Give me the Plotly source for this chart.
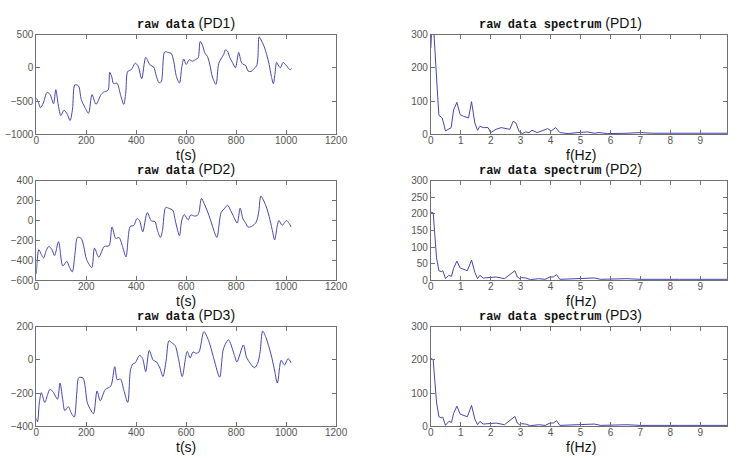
import plotly.graph_objects as go
from plotly.subplots import make_subplots

# ---------------- data ----------------
t1 = [0, 8, 17, 28, 43, 55, 69, 78, 88, 98, 111, 124, 135, 145, 154, 165, 171, 180, 195, 209,
      223, 239, 259, 272, 283, 289, 294, 303, 308, 318, 324, 338, 350, 358, 366, 380, 396, 407,
      422, 438, 455, 470, 480, 491, 500, 514, 528, 540, 550, 560, 573, 582, 590, 600, 612, 625,
      640, 648, 656, 665, 675, 685, 695, 705, 719, 730, 742, 750, 757, 765, 775, 785, 797, 810,
      820, 828, 837, 848, 860, 872, 882, 887, 892, 902, 912, 922, 932, 941, 949, 955, 962, 970,
      977, 988, 997, 1008, 1015, 1022]
pd1 = [-452, -520, -600, -530, -370, -400, -540, -330, -560, -720, -638, -700, -793, -620, -258,
       -262, -290, -477, -600, -686, -404, -550, -404, -360, -350, -320, -68, -150, -234, -234,
       -234, -420, -550, -380, -54, -30, 68, 30, -166, 156, 44, 10, -120, -224, -210, 238, 230,
       215, 100, -120, -230, 0, 132, 50, 120, 100, 130, 150, 396, 340, 220, 170, 40, -140, -250,
       60, 150, 200, 269, 250, 150, 80, 0, 230, 90, 50, 40, -50, -55, -10, 30, 150, 464, 400, 320,
       200, 50, -130, -240, -100, 83, 30, 0, 80, 50, 0, -30, -10]

t2 = [0, 10, 20, 29, 40, 50, 62, 73, 89, 106, 122, 133, 144, 155, 165, 180, 190, 201, 222, 233,
      250, 272, 291, 303, 318, 331, 345, 359, 376, 390, 403, 413, 426, 444, 461, 475, 485, 497,
      505, 518, 532, 546, 558, 573, 582, 592, 608, 618, 632, 644, 651, 661, 672, 684, 698, 712,
      723, 740, 755, 766, 778, 788, 804, 816, 827, 837, 847, 862, 880, 890, 899, 919, 932, 944,
      954, 964, 971, 984, 994, 1001, 1012, 1020]
pd2 = [-537, -293, -340, -375, -300, -260, -290, -352, -212, -456, -410, -470, -515, -330, -170,
       -180, -260, -390, -472, -277, -368, -260, -254, -65, -180, -170, -260, -365, -59, -50, 20,
       0, -114, 78, -6, -10, -100, -170, -100, 130, 120, 104, -20, -153, 0, 59, 7, 55, 45, 49, 81,
       221, 170, 98, 0, -110, -170, 81, 125, 153, 100, 49, -26, 124, 16, -20, -65, -60, -16, 80,
       244, 147, 40, -90, -195, -60, 0, -49, -20, 0, -30, -65]

t3 = [0, 5, 12, 20, 34, 45, 54, 66, 76, 85, 95, 105, 114, 128, 140, 152, 162, 170, 187, 204, 217,
      229, 243, 256, 276, 298, 314, 324, 337, 350, 366, 377, 386, 396, 413, 425, 438, 452, 468,
      481, 495, 507, 520, 531, 545, 556, 570, 584, 604, 616, 627, 640, 651, 671, 690, 712, 734,
      749, 769, 792, 803, 829, 841, 856, 873, 886, 896, 906, 919, 939, 952, 965, 980, 993, 1008,
      1020]
pd3 = [-353, -373, -260, -197, -256, -210, -178, -190, -217, -236, -139, -230, -305, -281, -320,
       -344, -200, -107, -109, -256, -300, -324, -187, -246, -178, -158, -41, -119, -115, -180,
       -256, -60, -25, -18, 27, 10, -70, 57, -2, -12, -50, -100, 0, 115, 100, 86, 0, -100, 51, 12,
       47, 40, 47, 170, 115, 0, -104, 66, 121, 33, -12, 90, 18, -20, -47, -21, 50, 174, 135, 37,
       -50, -139, -2, -31, 8, -18]

f1 = [0, 0.03, 0.1, 0.16, 0.22, 0.27, 0.38, 0.49, 0.6, 0.68, 0.76, 0.87, 0.98, 1.09, 1.26, 1.36,
      1.47, 1.56, 1.64, 1.75, 1.91, 2.0, 2.18, 2.35, 2.51, 2.64, 2.75, 2.84, 2.95, 3.06, 3.17,
      3.28, 3.38, 3.55, 3.71, 3.9, 4.02, 4.17, 4.31, 4.59, 4.91, 5.24, 5.46, 5.62, 5.9, 6.3, 6.55,
      6.99, 7.4, 8.0, 8.6, 9.2, 9.9]
s1 = [259, 320, 310, 205, 127, 57, 49, 10, 17, 20, 73, 96, 59, 54, 49, 98, 34, 12, 24, 20, 20, 5,
      15, 20, 17, 15, 39, 34, 8, 2, 7, 5, 12, 5, 10, 17, 10, 20, 5, 2, 5, 7, 3, 5, 2, 4, 3, 5, 3,
      3, 3, 3, 3]

f2 = [0, 0.08, 0.13, 0.19, 0.27, 0.35, 0.4, 0.49, 0.6, 0.69, 0.76, 0.87, 0.98, 1.09, 1.22, 1.36,
      1.47, 1.56, 1.64, 1.75, 1.91, 2.18, 2.46, 2.67, 2.81, 2.89, 2.97, 3.03, 3.17, 3.33, 3.6,
      3.82, 3.98, 4.09, 4.2, 4.31, 4.8, 5.24, 5.46, 5.68, 6.11, 6.55, 6.99, 7.64, 8.3, 9.0, 9.9]
s2 = [205, 203, 141, 68, 29, 26, 29, 5, 15, 12, 36, 58, 37, 34, 29, 61, 24, 5, 15, 7, 8, 10, 5,
      19, 29, 10, 5, 8, 7, 2, 5, 3, 10, 10, 17, 3, 5, 5, 7, 3, 5, 5, 3, 2, 3, 3, 3]

f3 = [0, 0.08, 0.13, 0.19, 0.27, 0.35, 0.4, 0.49, 0.6, 0.69, 0.76, 0.87, 0.98, 1.09, 1.22, 1.36,
      1.47, 1.56, 1.64, 1.75, 1.91, 2.18, 2.46, 2.67, 2.81, 2.89, 2.97, 3.03, 3.17, 3.33, 3.6,
      3.82, 3.98, 4.09, 4.2, 4.31, 4.8, 5.24, 5.46, 5.68, 6.11, 6.55, 6.99, 7.64, 8.3, 9.0, 9.9]
s3 = [205, 200, 140, 73, 29, 26, 28, 3, 15, 12, 39, 61, 37, 34, 29, 63, 22, 5, 15, 7, 8, 10, 5,
      19, 30, 10, 5, 8, 7, 2, 5, 3, 10, 10, 17, 3, 5, 5, 7, 3, 5, 5, 3, 2, 3, 3, 3]

raw_names = ["PD1", "PD2", "PD3"]
left_ranges = [[-1000, 500], [-600, 400], [-400, 200]]
left_dticks = [500, 200, 200]
right_dticks = [100, 50, 100]

# ---------------- figure ----------------
W, H = 739, 458
LINE = "#4646b0"
AXC = "#707070"
TICKF = dict(family="Liberation Sans, Arial", size=10, color="#555555")

fig = make_subplots(rows=3, cols=2)

series_t = [(t1, pd1), (t2, pd2), (t3, pd3)]
series_f = [(f1, s1), (f2, s2), (f3, s3)]
for i in range(3):
    fig.add_trace(go.Scatter(x=series_t[i][0], y=series_t[i][1], mode="lines",
                             line=dict(color=LINE, width=1, shape="spline", smoothing=0.8),
                             showlegend=False, hoverinfo="skip"), row=i + 1, col=1)
    fig.add_trace(go.Scatter(x=series_f[i][0], y=series_f[i][1], mode="lines",
                             line=dict(color=LINE, width=1),
                             showlegend=False, hoverinfo="skip"), row=i + 1, col=2)

# pixel geometry of the panels
left_x = (34, 340)
right_x0 = 436.7
px_per_hz = 30.55
rows_y = [(29.3, 131.7), (179.3, 281.7), (329.3, 431.7)]

def ydom(top, bot):
    return [1 - bot / H, 1 - top / H]

axis_common = dict(showline=True, linecolor=AXC, linewidth=1, mirror="ticks",
                   ticks="inside", ticklen=4, tickcolor=AXC, showgrid=False,
                   zeroline=False, tickfont=TICKF)

for i in range(3):
    r = i + 1
    dom_y = ydom(*rows_y[i])
    fig.update_xaxes(domain=[left_x[0] / W, left_x[1] / W], range=[0, 1200], dtick=200,
                     tick0=0, ticklabelstandoff=-3, row=r, col=1, **axis_common)
    fig.update_yaxes(domain=dom_y, range=left_ranges[i], dtick=left_dticks[i],
                     row=r, col=1, **axis_common)
    fig.update_xaxes(domain=[right_x0 / W, 1], range=[0, (W - right_x0) / px_per_hz], dtick=1,
                     tick0=0, ticklabelstandoff=-3, row=r, col=2, **axis_common)
    fig.update_yaxes(domain=dom_y, range=[0, 300], dtick=right_dticks[i],
                     row=r, col=2, **axis_common)

MONO = "Liberation Mono, Courier New, monospace"
annots = []
for i in range(3):
    top, bot = rows_y[i]
    title_y = top - 11.5
    annots.append(dict(
        text=f'<span style="font-family:{MONO};font-weight:bold;font-size:12px">raw data</span> ({raw_names[i]})',
        x=187 / W, y=1 - title_y / H, xref="paper", yref="paper",
        xanchor="center", yanchor="middle", showarrow=False,
        font=dict(family="Liberation Sans, Arial", size=14, color="#111111")))
    annots.append(dict(
        text=f'<span style="font-family:{MONO};font-weight:bold;font-size:12px">raw data spectrum</span> ({raw_names[i]})',
        x=569 / W, y=1 - title_y / H, xref="paper", yref="paper",
        xanchor="center", yanchor="middle", showarrow=False,
        font=dict(family="Liberation Sans, Arial", size=14, color="#111111")))
    annots.append(dict(text="t(s)", x=187 / W, y=1 - (bot + 21) / H, xref="paper", yref="paper",
                       xanchor="center", yanchor="middle", showarrow=False,
                       font=dict(family="Liberation Sans, Arial", size=14, color="#111111")))
    annots.append(dict(text="f(Hz)", x=590 / W, y=1 - (bot + 21) / H, xref="paper", yref="paper",
                       xanchor="center", yanchor="middle", showarrow=False,
                       font=dict(family="Liberation Sans, Arial", size=14, color="#111111")))

fig.update_layout(width=W, height=H, margin=dict(l=0, r=0, t=0, b=0),
                  paper_bgcolor="white", plot_bgcolor="white",
                  annotations=annots, showlegend=False)

fig.write_html("out.html")
